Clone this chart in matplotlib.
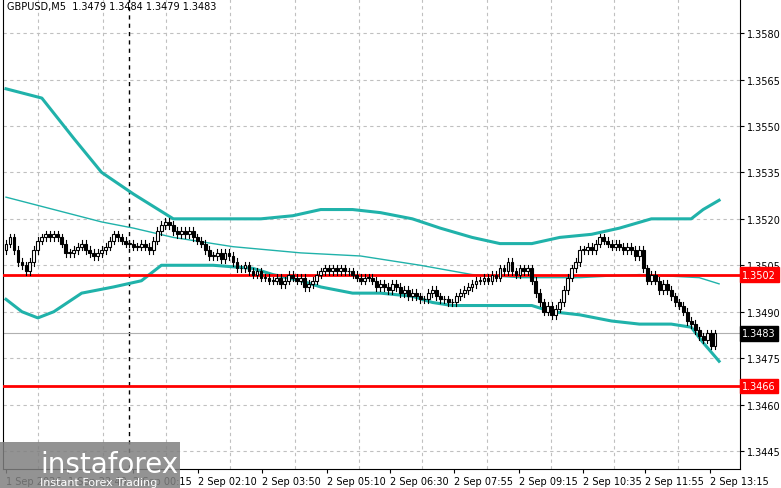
import matplotlib
matplotlib.use("Agg")
import matplotlib.pyplot as plt
from matplotlib.patches import Rectangle
import numpy as np

closes = [1.3512,1.3514,1.3510,1.3506,1.3505,1.3503,1.3506,1.3510,1.3513,1.3514,
1.3515,1.3514,1.3515,1.3514,1.3512,1.3509,1.3509,1.3510,1.3511,1.3512,
1.3510,1.3509,1.3508,1.3509,1.3510,1.3511,1.3513,1.3515,1.3514,1.3513,
1.3512,1.3512,1.3511,1.3511,1.3512,1.3511,1.3510,1.3513,1.3516,1.3518,
1.3519,1.3518,1.3516,1.3515,1.3516,1.3515,1.3516,1.3514,1.3513,1.3512,
1.3510,1.3508,1.3508,1.3509,1.3507,1.3509,1.3508,1.3506,1.3504,1.3504,
1.3505,1.3503,1.3502,1.3503,1.3501,1.3501,1.3500,1.3500,1.3501,1.3499,
1.3500,1.3502,1.3501,1.3500,1.3501,1.3498,1.3499,1.3500,1.3502,1.3503,
1.3504,1.3503,1.3504,1.3503,1.3504,1.3503,1.3503,1.3502,1.3501,1.3500,
1.3501,1.3501,1.3500,1.3498,1.3499,1.3498,1.3497,1.3499,1.3498,1.3496,
1.3497,1.3495,1.3496,1.3495,1.3494,1.3494,1.3496,1.3497,1.3495,1.3494,
1.3494,1.3493,1.3493,1.3495,1.3496,1.3497,1.3498,1.3499,1.3500,1.3500,
1.3501,1.3500,1.3502,1.3501,1.3504,1.3503,1.3506,1.3503,1.3502,1.3504,
1.3503,1.3504,1.3500,1.3496,1.3493,1.3490,1.3492,1.3489,1.3491,1.3493,
1.3497,1.3501,1.3504,1.3506,1.3510,1.3510,1.3511,1.3510,1.3512,1.3514,
1.3513,1.3512,1.3511,1.3512,1.3511,1.3510,1.3511,1.3510,1.3508,1.3510,
1.3504,1.3500,1.3502,1.3500,1.3497,1.3499,1.3497,1.3495,1.3493,1.3492,
1.3490,1.3487,1.3486,1.3484,1.3482,1.3481,1.3483,1.3479,1.3483]
first_open = 1.3510

band_idx = [0,9,17,24,32,37,42,49,57,64,72,79,87,94,102,109,117,124,132,139,147,154,162,172,175,179]
upper = [1.3562,1.3559,1.3546,1.3535,1.3528,1.3524,1.3520,1.3520,1.3520,1.3520,1.3521,1.3523,1.3523,1.3522,1.3520,1.3517,1.3514,1.3512,1.3512,1.3514,1.3515,1.3517,1.3520,1.3520,1.3523,1.3526]
lower_idx = [0,4,8,12,19,27,34,39,43,52,62,67,74,79,87,94,102,107,112,119,127,132,137,144,152,159,167,172,175,179]
lower = [1.3494,1.3490,1.3488,1.3490,1.3496,1.3498,1.3500,1.3505,1.3505,1.3505,1.3504,1.3502,1.3500,1.3498,1.3496,1.3496,1.3495,1.3493,1.3492,1.3492,1.3492,1.3492,1.3490,1.3489,1.3487,1.3486,1.3486,1.3485,1.3480,1.3474]
mid_idx = [0,12,24,32,42,57,74,89,104,117,129,144,159,174,179]
middle = [1.3527,1.3523,1.3519,1.3517,1.3514,1.3511,1.3509,1.3508,1.3505,1.3502,1.3501,1.3501,1.3502,1.3501,1.3499]

tick_pos = [0,15.5,32,48.25,64.25,80.5,96.5,112.5,128.75,144.75,160.5,176.75]
tick_labels = ["1 Sep 2026","1 Sep 22:40","2 Sep 00:15","2 Sep 02:10","2 Sep 03:50","2 Sep 05:10",
               "2 Sep 06:30","2 Sep 07:55","2 Sep 09:15","2 Sep 10:35","2 Sep 11:55","2 Sep 13:15"]
price_ticks = [1.3580,1.3565,1.3550,1.3535,1.3520,1.3505,1.3490,1.3475,1.3460,1.3445]
level1, level2, current = 1.3502, 1.3466, 1.3483

fig = plt.figure(figsize=(7.81,4.89), dpi=100)
ax = fig.add_axes([3/781, 19/489, 737/781, 470/489])
ax.set_xlim(-0.75, 184.25)
ax.set_ylim(1.34392, 1.35910)

for y in price_ticks:
    ax.axhline(y, color="#c0c0c0", lw=0.8, ls=(0,(3,3)), zorder=0)
for x in [8, 24.25, 40.25, 56.25, 72.5, 88.5, 104.5, 120.75, 136.75, 152.5, 168.75]:
    ax.axvline(x, color="#c0c0c0", lw=0.8, ls=(0,(3,3)), zorder=0)
ax.axvline(31, color="black", lw=1, ls=(0,(3,3)), zorder=1)

ax.plot(band_idx, upper, color="#20b2aa", lw=2.2, zorder=2)
ax.plot(lower_idx, lower, color="#20b2aa", lw=2.2, zorder=2)
ax.plot(mid_idx, middle, color="#20b2aa", lw=1, zorder=2)

ax.axhline(current, color="#b0b0b0", lw=0.8, zorder=1)
ax.axhline(level1, color="#ff0000", lw=2, zorder=3)
ax.axhline(level2, color="#ff0000", lw=2, zorder=3)

opens = [first_open] + closes[:-1]
for i, (o, c) in enumerate(zip(opens, closes)):
    hi = max(o, c) + 0.00012
    lo = min(o, c) - 0.00012
    ax.plot([i, i], [lo, hi], color="black", lw=0.8, zorder=4)
    b = max(abs(c - o), 0.00002)
    ax.add_patch(Rectangle((i - 0.35, min(o, c)), 0.7, b,
                           facecolor="white" if c >= o else "black",
                           edgecolor="black", lw=0.8, zorder=5))

ax.yaxis.tick_right()
ax.set_yticks(price_ticks)
ax.set_yticklabels([f"{v:.4f}" for v in price_ticks], fontsize=7)
ax.set_xticks(tick_pos)
ax.set_xticklabels(tick_labels, fontsize=7, ha="left")
ax.tick_params(axis="both", length=3, pad=2)
for s in ["top"]:
    ax.spines[s].set_visible(False)

for val, col in [(level1, "#ff0000"), (level2, "#ff0000"), (current, "black")]:
    ax.text(1.003, val, f"{val:.4f}", transform=ax.get_yaxis_transform(), fontsize=7,
            color="white", va="center", ha="left",
            bbox=dict(boxstyle="square,pad=0.25", fc=col, ec=col), zorder=10, clip_on=False)

ax.text(0.006, 0.995, "GBPUSD,M5  1.3479 1.3484 1.3479 1.3483", transform=ax.transAxes,
        fontsize=7, va="top", ha="left")

# watermark
fig.patches.append(Rectangle((0, 0), 180/781, 46/489, transform=fig.transFigure,
                             fc="#808080", alpha=0.85, zorder=20))
fig.text(40/781, 24/489, "instaforex", fontsize=20, color="white", va="center", zorder=21)
fig.text(40/781, 6/489, "Instant Forex Trading", fontsize=8, color="white", va="center", zorder=21)

fig.savefig("out.png", dpi=100)
